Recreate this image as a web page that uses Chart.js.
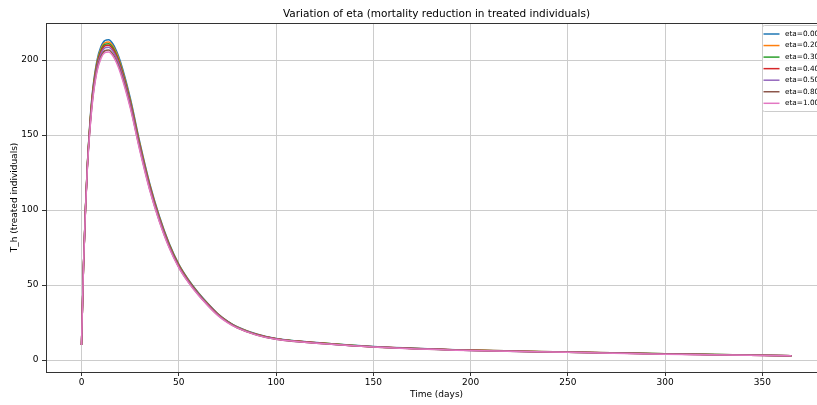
<!DOCTYPE html>
<html>
<head>
<meta charset="utf-8">
<script src="https://cdn.jsdelivr.net/npm/chart.js@4.4.1/dist/chart.umd.min.js"></script>
<style>
    html, body { margin: 0; padding: 0; background: #fff; overflow: hidden; }
    #wrap { width: 827px; height: 405px; }
</style>
</head>
<body>
<div id="wrap"><canvas id="chart" width="827" height="405"></canvas></div>
<script>
// time points (days)
const days = [0, 1, 2, 3, 4, 5, 6, 8, 10, 12, 14, 16, 18, 20, 25, 30, 35, 40, 45, 50, 55, 60, 65, 70, 75, 80, 90, 100, 125, 150, 200, 250, 300, 365];

// T_h values, one array per eta
const eta000 = [10, 62, 100, 130, 152, 170, 183, 200, 209, 213, 213.5, 211, 206, 199, 175, 145, 118, 96, 78, 64, 53.6, 45, 37.6, 31, 26, 22.2, 17.3, 14.3, 11.2, 9, 6.6, 5.3, 4.1, 2.9];
const eta020 = [10, 61.9, 99.8, 129.6, 151.3, 169, 181.8, 198.6, 207.5, 211.5, 212, 209.5, 204.6, 197.6, 173.8, 144, 117.2, 95.3, 77.5, 63.6, 53.2, 44.7, 37.3, 30.8, 25.8, 22, 17.2, 14.2, 11.1, 8.9, 6.6, 5.3, 4.1, 2.9];
const eta030 = [10, 61.8, 99.6, 129.3, 150.8, 168, 180.8, 197.6, 206.5, 210.4, 210.9, 208.5, 203.5, 196.6, 172.9, 143.3, 116.6, 94.8, 77.1, 63.2, 53, 44.5, 37.1, 30.6, 25.7, 21.9, 17.1, 14.1, 11.1, 8.9, 6.5, 5.2, 4.1, 2.9];
const eta040 = [10, 61.7, 99.4, 129, 150.2, 167.1, 179.9, 196.6, 205.4, 209.4, 209.9, 207.4, 202.5, 195.6, 172, 142.5, 116, 94.4, 76.7, 62.9, 52.7, 44.2, 37, 30.5, 25.6, 21.8, 17, 14.1, 11, 8.8, 6.5, 5.2, 4, 2.9];
const eta050 = [10, 61.6, 99.2, 128.6, 149.5, 166.1, 178.8, 195.4, 204.2, 208.1, 208.6, 206.1, 201.3, 194.4, 171, 141.7, 115.3, 93.8, 76.2, 62.5, 52.4, 44, 36.7, 30.3, 25.4, 21.7, 16.9, 14, 10.9, 8.8, 6.4, 5.2, 4, 2.8];
const eta080 = [10, 61.4, 98.8, 128, 148.5, 164.6, 177.1, 193.6, 202.3, 206.2, 206.7, 204.2, 199.4, 192.6, 169.4, 140.4, 114.2, 92.9, 75.5, 62, 51.9, 43.6, 36.4, 30, 25.2, 21.5, 16.7, 13.8, 10.8, 8.7, 6.4, 5.1, 4, 2.8];
const eta100 = [10, 61.3, 98.5, 127.6, 147.8, 163.5, 176, 192.4, 201.1, 204.9, 205.4, 203, 198.2, 191.4, 168.4, 139.5, 113.5, 92.4, 75, 61.6, 51.6, 43.3, 36.2, 29.8, 25, 21.4, 16.6, 13.8, 10.8, 8.7, 6.3, 5.1, 3.9, 2.8];

const etaLabels = ['eta=0.00', 'eta=0.20', 'eta=0.30', 'eta=0.40', 'eta=0.50', 'eta=0.80', 'eta=1.00'];
const etaSeries = [eta000, eta020, eta030, eta040, eta050, eta080, eta100];
const xTicks = [0, 50, 100, 150, 200, 250, 300, 350];
const yTicks = [0, 50, 100, 150, 200];

const colors = ['#1f77b4', '#ff7f0e', '#2ca02c', '#d62728', '#9467bd', '#8c564b', '#e377c2'];
const FONT = "'DejaVu Sans', sans-serif";

const datasets = etaSeries.map((vals, i) => ({
    label: etaLabels[i],
    data: days.map((d, j) => ({ x: d, y: vals[j] })),
    borderColor: colors[i],
    backgroundColor: colors[i],
    borderWidth: 1.5,
    pointRadius: 0,
    cubicInterpolationMode: 'monotone',
    fill: false,
    order: etaSeries.length - 1 - i
}));

// frame on all four sides, like matplotlib spines
const framePlugin = {
    id: 'frame',
    afterDatasetsDraw(chart) {
        const { ctx, chartArea: a } = chart;
        ctx.save();
        ctx.strokeStyle = '#333';
        ctx.lineWidth = 1;
        ctx.strokeRect(a.left + 0.5, a.top + 0.5, a.right - a.left - 1, a.bottom - a.top);
        ctx.restore();
    }
};

// legend box in the top right corner of the axes
const boxLegend = {
    id: 'boxLegend',
    afterDraw(chart) {
        const ctx = chart.ctx;
        const x0 = 762, y0 = 25, w = 80, h = 86, rowH = 11.55;
        ctx.save();
        ctx.fillStyle = 'rgba(255,255,255,0.8)';
        ctx.strokeStyle = '#cccccc';
        ctx.lineWidth = 1;
        ctx.beginPath();
        ctx.roundRect(x0 + 0.5, y0 + 0.5, w, h, 2);
        ctx.fill();
        ctx.stroke();
        ctx.font = '7.3px ' + FONT;
        ctx.textBaseline = 'middle';
        chart.data.datasets.forEach((ds, i) => {
            const y = y0 + 9 + i * rowH;
            ctx.strokeStyle = ds.borderColor;
            ctx.lineWidth = 1.5;
            ctx.beginPath();
            ctx.moveTo(763.5, y);
            ctx.lineTo(779.5, y);
            ctx.stroke();
            ctx.fillStyle = '#000';
            ctx.fillText(ds.label, 785, y);
        });
        ctx.restore();
    }
};

new Chart(document.getElementById('chart'), {
    type: 'line',
    data: { datasets: datasets },
    options: {
        responsive: false,
        animation: false,
        layout: { padding: 0 },
        plugins: {
            legend: { display: false },
            tooltip: { enabled: false },
            title: {
                display: true,
                text: 'Variation of eta (mortality reduction in treated individuals)',
                color: '#000',
                fullSize: false,
                font: { family: FONT, size: 10.5, weight: 'normal' },
                padding: { top: 8, bottom: 2.4 }
            }
        },
        scales: {
            x: {
                type: 'linear',
                min: -18.25,
                max: 383.25,
                afterFit(scale) { scale.height = 33; },
                afterBuildTicks(scale) { scale.ticks = xTicks.map(v => ({ value: v })); },
                grid: { color: '#cccccc', lineWidth: 1, tickLength: 4, tickColor: '#333' },
                border: { color: '#333', width: 1 },
                ticks: { color: '#000', padding: 1, maxRotation: 0, font: { family: FONT, size: 9 } },
                title: {
                    display: true, text: 'Time (days)', color: '#000',
                    font: { family: FONT, size: 9 }, padding: { top: 0, bottom: 4.5 }
                }
            },
            y: {
                type: 'linear',
                min: -8.0,
                max: 224.7,
                afterFit(scale) { scale.width = 46; },
                afterBuildTicks(scale) { scale.ticks = yTicks.map(v => ({ value: v })); },
                grid: { color: '#cccccc', lineWidth: 1, tickLength: 4, tickColor: '#333' },
                border: { color: '#333', width: 1 },
                ticks: { color: '#000', padding: 3.5, font: { family: FONT, size: 9 } },
                title: {
                    display: true, text: 'T_h (treated individuals)', color: '#000',
                    font: { family: FONT, size: 9 }, padding: { top: 9.5, bottom: 0 }
                }
            }
        }
    },
    plugins: [framePlugin, boxLegend]
});
</script>
</body>
</html>
